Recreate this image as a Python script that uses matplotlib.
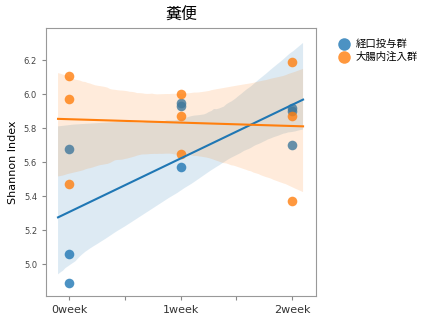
import numpy as np
import matplotlib
matplotlib.use("Agg")
import matplotlib.pyplot as plt
import seaborn as sns

plt.rcParams['font.family'] = ['DejaVu Sans', 'Noto Sans CJK JP']

weeks = [0, 0, 0, 1, 1, 1, 2, 2, 2]
week_labels = ["0week", "", "1week", "", "2week"]
oral = [5.68, 5.06, 4.89, 5.95, 5.93, 5.57, 5.92, 5.90, 5.70]
colon = [6.11, 5.97, 5.47, 6.00, 5.87, 5.65, 6.19, 5.87, 5.37]
groups = ["経口投与群", "大腸内注入群"]

fig = plt.figure(figsize=(4.23, 3.2), dpi=100)
ax = fig.add_axes([0.109, 0.075, 0.638, 0.8375])

for vals, name, col, sd in zip([oral, colon], groups, ["#1f77b4", "#ff7f0e"], [2, 5]):
    sns.regplot(x=np.array(weeks, float), y=np.array(vals), ax=ax, color=col,
                truncate=False, seed=sd, label=name,
                scatter_kws={"s": 48, "linewidths": 0}, line_kws={"lw": 1.5})

ax.set_xlim(-0.207, 2.216)
ax.set_ylim(4.813, 6.39)
ax.set_xticks([0, 0.5, 1, 1.5, 2])
ax.set_xticklabels(week_labels, fontsize=8, color="#333333")
ax.set_yticks([5.0, 5.2, 5.4, 5.6, 5.8, 6.0, 6.2])
ax.set_yticklabels(["5.0", "5.2", "5.4", "5.6", "5.8", "6.0", "6.2"], fontsize=6, color="#444444")
ax.tick_params(length=3, color="#888888")
for s in ax.spines.values():
    s.set_color("#999999")
ax.set_xlabel("")
ax.set_ylabel("Shannon Index", fontsize=8)
ax.set_title("糞便", fontsize=11.5)

ax.legend(loc="upper left", bbox_to_anchor=(1.03, 0.995), frameon=False,
          fontsize=7.5, handletextpad=0.1, markerscale=1.3, labelspacing=0.3)

plt.savefig("out.png", dpi=100)
